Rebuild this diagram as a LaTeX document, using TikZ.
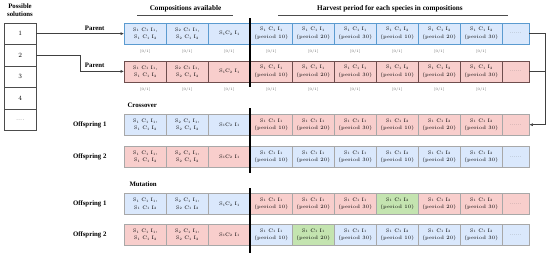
\documentclass[tikz,border=0pt]{standalone}
\usepackage{fontspec}
\newfontfamily\tnr{Liberation Serif}
\usetikzlibrary{arrows.meta, calc, positioning}
\definecolor{bl}{HTML}{DAE8FC}
\definecolor{rd}{HTML}{F8CECC}
\definecolor{gr}{HTML}{C4E4B0}
\definecolor{blueline}{HTML}{5B9BD0}
\definecolor{redline}{HTML}{6E4E4E}
\definecolor{offline}{HTML}{A8A8A8}
\newcommand{\sub}[1]{\raisebox{-0.6pt}{\fontsize{3.3}{4}\selectfont#1}}
\newcommand{\celltext}[1]{\ifcase#1\or
  S\sub1 C\sub1 I\sub1,\\S\sub1 C\sub1 I\sub2\or
  S\sub2 C\sub1 I\sub1,\\S\sub2 C\sub1 I\sub2\or
  S\sub1C\sub2 I\sub1\or
  S\sub1 C\sub1 I\sub1\\(period 10)\or
  S\sub1 C\sub1 I\sub1\\(period 20)\or
  S\sub1 C\sub1 I\sub1\\(period 30)\or
  S\sub1 C\sub1 I\sub2\\(period 10)\or
  S\sub1 C\sub1 I\sub2\\(period 20)\or
  S\sub1 C\sub1 I\sub2\\(period 30)\or
  {\color{black!60}......}\fi}
\tikzset{
  cell/.style={draw, minimum height=21pt, inner sep=0pt, anchor=north west, align=center, font=\fontsize{5}{7.5}\selectfont},
  bit/.style={font=\fontsize{3.5}{4}\selectfont, text=black!70},
  lab/.style={font=\tnr\bfseries\fontsize{6.8}{8}\selectfont},
  head/.style={font=\tnr\bfseries\fontsize{7.2}{8}\selectfont},
  sol/.style={draw=black!70, minimum width=32pt, minimum height=21.5pt, inner sep=0pt, anchor=north west, font=\fontsize{6.5}{8}\selectfont},
  split/.style={line width=1.4pt},
  link/.style={draw=black!75, line width=0.5pt},
  tip/.style={-{Latex[length=3.5pt,width=3pt]}}
}

\begin{document}
\begin{tikzpicture}[x=1pt, y=-1pt]
\useasboundingbox (0,0) rectangle (550,257);
% possible solutions
\node[lab, align=center] (ps) at (20,10) {Possible\\solutions};
\foreach \t [count=\i] in {1,2,3,4}
  \node[sol] (s\i) at (4,{22.7+21.46*(\i-1)}) {\t};
\node[sol, below=0pt of s4, anchor=north, text=black!60] (s5) {....};
% headers
\node[head] (hc) at (185.5,9) {Compositions available};
\node[head] (hh) at (390,9) {Harvest period for each species in compositions};
\draw[black!70] (137,15) -- (233,15);
\draw[black!70] (278,15) -- (508,15);
% rows of cells
\foreach \r/\yy/\ln/\cols in {p1/22.7/blueline/{bl,bl,bl,bl,bl,bl,bl,bl,bl,bl},
    p2/60.7/redline/{rd,rd,rd,rd,rd,rd,rd,rd,rd,rd},
    c1/114/offline/{bl,bl,bl,rd,rd,rd,rd,rd,rd,rd},
    c2/146/offline/{rd,rd,rd,bl,bl,bl,bl,bl,bl,bl},
    m1/193.3/offline/{bl,bl,bl,rd,rd,rd,gr,rd,rd,rd},
    m2/224/offline/{rd,rd,rd,bl,gr,bl,bl,bl,bl,bl}}{
  \foreach \c [count=\k] in \cols {
    \pgfmathsetmacro{\w}{\k<10 ? 42 : 27}
    \node[cell, fill=\c, draw=\ln, minimum width=\w pt] (\r-\k) at ({124+42*(\k-1)},\yy) {\celltext{\k}};
  }
}
\foreach \k in {1,...,9}{
  \node[bit, below=2.5pt of p1-\k] (p1-b\k) {[0/1]};
  \node[bit, below=2.5pt of p2-\k] (p2-b\k) {[0/1]};
}
% separators
\draw[split] (250,18) -- (250,87);
\draw[split] (250,108) -- (250,173);
\draw[split] (250,188) -- (250,253);
% labels
\node[lab, anchor=east] (lp1) at (108,28) {Parent};
\node[lab, anchor=east] (lp2) at (108,65) {Parent};
\node[lab, left=14pt of c1-1] (lc1) {Offspring 1};
\node[lab, left=14pt of c2-1] (lc2) {Offspring 2};
\node[lab, left=14pt of m1-1] (lm1) {Offspring 1};
\node[lab, left=14pt of m2-1] (lm2) {Offspring 2};
\node[lab, anchor=south west] (lxo) at ($(c1-1.north west)+(0,-3)$) {Crossover};
\node[lab, anchor=south west] (lmu) at ($(m1-1.north west)+(2,-3)$) {Mutation};
% connectors
\draw[link, tip] (s1.east) -- (s1.east -| p1-1.west);
\draw[link, tip] (s2.east) -- ++(44,0) |- (p2-1.west);
\draw[link, tip] (p1-10.east) -- ++(16,0) |- (c1-10.east);
\draw[link] (p2-10.east) -- ++(16,0);
\end{tikzpicture}
\end{document}
